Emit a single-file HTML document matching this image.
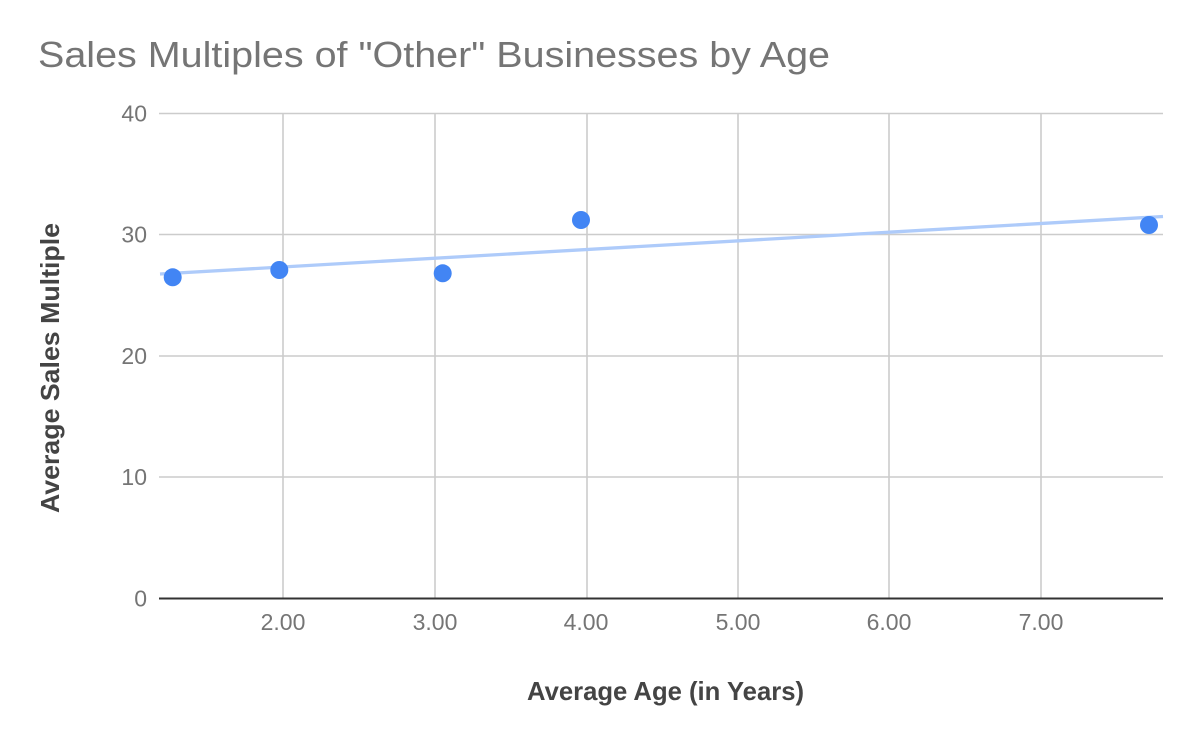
<!DOCTYPE html>
<html>
<head>
<meta charset="utf-8">
<style>
  html, body { margin: 0; padding: 0; background: #ffffff; }
  svg { display: block; }
  text { font-family: "Liberation Sans", sans-serif; }
</style>
</head>
<body>
<svg width="1200" height="742" viewBox="0 0 1200 742" xmlns="http://www.w3.org/2000/svg">
  <rect x="0" y="0" width="1200" height="742" fill="#ffffff"/>
  <!-- Title -->
  <text x="38" y="67" font-size="36" fill="#757575" textLength="792" lengthAdjust="spacingAndGlyphs">Sales Multiples of "Other" Businesses by Age</text>

  <!-- horizontal gridlines -->
  <g stroke="#cccccc" stroke-width="1.6">
    <line x1="159" y1="113.5" x2="1163" y2="113.5"/>
    <line x1="159" y1="234.5" x2="1163" y2="234.5"/>
    <line x1="159" y1="356" x2="1163" y2="356"/>
    <line x1="159" y1="477" x2="1163" y2="477"/>
    <!-- vertical gridlines -->
    <line x1="283" y1="113" x2="283" y2="598"/>
    <line x1="435" y1="113" x2="435" y2="598"/>
    <line x1="587" y1="113" x2="587" y2="598"/>
    <line x1="738" y1="113" x2="738" y2="598"/>
    <line x1="889" y1="113" x2="889" y2="598"/>
    <line x1="1041" y1="113" x2="1041" y2="598"/>
  </g>
  <!-- zero axis -->
  <line x1="159" y1="598.5" x2="1163" y2="598.5" stroke="#333333" stroke-width="2"/>

  <!-- Y tick labels -->
  <g font-size="23" fill="#757575" text-anchor="end">
    <text x="147" y="121.5">40</text>
    <text x="147" y="242.5">30</text>
    <text x="147" y="364">20</text>
    <text x="147" y="485">10</text>
    <text x="147" y="606.5">0</text>
  </g>
  <!-- X tick labels -->
  <g font-size="23" fill="#757575" text-anchor="middle">
    <text x="283" y="630">2.00</text>
    <text x="435" y="630">3.00</text>
    <text x="586" y="630">4.00</text>
    <text x="738" y="630">5.00</text>
    <text x="889" y="630">6.00</text>
    <text x="1041" y="630">7.00</text>
  </g>

  <!-- Axis titles -->
  <text x="665.5" y="700" font-size="26" font-weight="bold" fill="#444444" text-anchor="middle" textLength="277" lengthAdjust="spacingAndGlyphs">Average Age (in Years)</text>
  <text transform="translate(59,368) rotate(-90)" x="0" y="0" font-size="26" font-weight="bold" fill="#444444" text-anchor="middle" textLength="290" lengthAdjust="spacingAndGlyphs">Average Sales Multiple</text>

  <!-- trendline -->
  <line x1="160" y1="274" x2="1163" y2="216.5" stroke="#aecbfa" stroke-width="3.3"/>

  <!-- points -->
  <g fill="#4285f4">
    <circle cx="172.7" cy="277.3" r="9"/>
    <circle cx="279.3" cy="270" r="9"/>
    <circle cx="442.7" cy="273.3" r="9"/>
    <circle cx="581" cy="220" r="9"/>
    <circle cx="1149" cy="225" r="9"/>
  </g>
</svg>
</body>
</html>
